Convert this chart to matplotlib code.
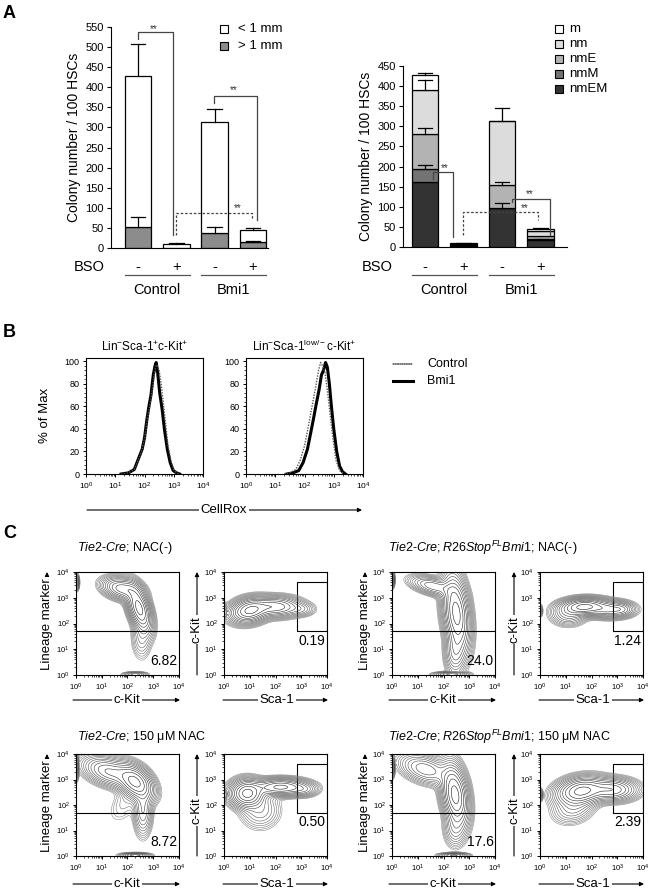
import matplotlib
matplotlib.use('Agg')
import matplotlib.pyplot as plt
import matplotlib.transforms as mtransforms
from matplotlib.patches import FancyArrowPatch, Rectangle
import numpy as np

plt.rcParams['font.family'] = ['Liberation Sans', 'DejaVu Sans']
plt.rcParams['mathtext.fontset'] = 'custom'
plt.rcParams['mathtext.rm'] = 'Liberation Sans'
plt.rcParams['mathtext.it'] = 'Liberation Sans:italic'
plt.rcParams['mathtext.bf'] = 'Liberation Sans:bold'
plt.rcParams['axes.linewidth'] = 0.8

# ---------------- data ----------------
groups = ['Control', 'Bmi1']
bso = ['-', '+', '-', '+']

# A left: colony size
small_mm = [375, 9, 275, 30]      # < 1 mm (stacked on top)
large_mm = [52, 1, 38, 15]        # > 1 mm
small_err = [80, 2, 32, 5]
large_err = [24, 0, 14, 2]

# A right: colony type, bottom to top
lineage = ['nmEM', 'nmM', 'nmE', 'nm', 'm']
nmEM = [162, 2, 98, 18]
nmM = [33, 1, 0, 2]
nmE = [85, 2, 55, 8]
nm = [110, 3, 160, 12]
m = [37, 1, 0, 4]
err_nmEM = [0, 0, 12, 3]
err_nmM = [8, 0, 0, 0]
err_nmE = [16, 0, 9, 0]
err_nm = [25, 0, 32, 0]
err_m = [5, 1, 0, 3]
lineage_colors = ['#333333', '#737373', '#b3b3b3', '#dcdcdc', '#ffffff']

# B: CellRox histograms (log10 intensity, % of max)
lsk_ctrl_x = [1.2, 1.45, 1.65, 1.8, 1.92, 2.02, 2.1, 2.18, 2.25, 2.32, 2.38, 2.43, 2.5, 2.57, 2.65, 2.72, 2.8, 2.9, 3.0, 3.1, 3.2]
lsk_ctrl_y = [0, 1, 4, 13, 22, 34, 50, 60, 72, 86, 95, 97, 92, 80, 62, 45, 26, 12, 4, 1, 0]
lsk_bmi_x = [1.2, 1.45, 1.65, 1.8, 1.92, 2.0, 2.08, 2.15, 2.22, 2.3, 2.36, 2.4, 2.45, 2.52, 2.6, 2.68, 2.78, 2.88, 2.98, 3.1, 3.2]
lsk_bmi_y = [0, 1, 4, 14, 22, 32, 48, 60, 70, 88, 96, 99, 90, 72, 58, 40, 22, 10, 3, 1, 0]
low_ctrl_x = [1.3, 1.5, 1.7, 1.85, 2.0, 2.1, 2.2, 2.3, 2.4, 2.48, 2.55, 2.62, 2.7, 2.78, 2.88, 2.98, 3.08, 3.2, 3.35]
low_ctrl_y = [0, 1, 4, 12, 25, 38, 52, 66, 80, 92, 99, 96, 90, 75, 52, 30, 12, 3, 0]
low_bmi_x = [1.4, 1.6, 1.8, 1.95, 2.1, 2.2, 2.3, 2.4, 2.5, 2.58, 2.65, 2.72, 2.78, 2.85, 2.92, 3.0, 3.1, 3.2, 3.3, 3.4]
low_bmi_y = [0, 1, 3, 10, 22, 35, 48, 62, 75, 88, 92, 99, 95, 80, 60, 40, 20, 7, 2, 0]

# C: contour populations (log10 x, log10 y, sd x, sd y, rho, weight)
tie2_nac0_lin = [(2.45, 2.6, 0.24, 0.45, -0.5, 1.0), (1.8, 3.35, 0.38, 0.22, -0.3, 0.55),
                 (2.55, 1.5, 0.2, 0.45, 0.0, 0.1), (0.03, 3.6, 0.05, 0.15, 0.0, 0.3),
                 (2.3, 0.03, 0.25, 0.05, 0.0, 0.15)]
tie2_nac0_sca = [(1.0, 2.5, 0.38, 0.24, 0.2, 1.0), (2.0, 2.65, 0.5, 0.2, 0.0, 0.6),
                 (3.0, 2.55, 0.28, 0.14, 0.0, 0.1), (0.03, 2.45, 0.05, 0.15, 0.0, 0.2)]
bmi1_nac0_lin = [(2.5, 2.4, 0.26, 0.75, -0.3, 1.0), (1.6, 3.45, 0.45, 0.2, -0.5, 0.3),
                 (2.45, 0.9, 0.2, 0.45, 0.0, 0.25), (0.03, 3.7, 0.04, 0.15, 0.0, 0.3),
                 (2.3, 0.03, 0.35, 0.05, 0.0, 0.25)]
bmi1_nac0_sca = [(1.7, 2.65, 0.45, 0.17, 0.1, 1.0), (2.7, 2.55, 0.45, 0.17, 0.0, 0.5),
                 (3.2, 2.55, 0.22, 0.13, 0.0, 0.15), (1.1, 2.35, 0.35, 0.22, 0.0, 0.2),
                 (0.03, 2.5, 0.04, 0.12, 0.0, 0.1)]
tie2_nac_lin = [(2.3, 2.9, 0.35, 0.35, -0.4, 1.0), (1.3, 3.3, 0.5, 0.3, -0.4, 0.5),
                (2.6, 1.8, 0.18, 0.5, 0.0, 0.25), (1.9, 2.1, 0.35, 0.45, 0.5, 0.04),
                (0.03, 3.5, 0.04, 0.25, 0.0, 0.3), (2.3, 0.03, 0.3, 0.05, 0.0, 0.3)]
tie2_nac_sca = [(0.9, 2.45, 0.33, 0.27, 0.0, 1.0), (2.2, 2.7, 0.55, 0.17, 0.0, 0.7),
                (1.4, 1.8, 0.4, 0.38, 0.0, 0.12), (3.1, 2.6, 0.28, 0.14, 0.0, 0.15),
                (0.03, 2.4, 0.05, 0.15, 0.0, 0.2)]
bmi1_nac_lin = [(2.45, 2.4, 0.26, 0.6, -0.3, 1.0), (1.3, 3.4, 0.5, 0.3, -0.4, 0.3),
                (2.45, 1.1, 0.22, 0.38, 0.0, 0.15), (0.03, 3.5, 0.04, 0.2, 0.0, 0.3),
                (2.4, 0.03, 0.3, 0.05, 0.0, 0.25)]
bmi1_nac_sca = [(1.6, 2.55, 0.48, 0.27, 0.2, 1.0), (2.8, 2.6, 0.48, 0.22, 0.0, 0.6),
                (1.3, 1.9, 0.42, 0.32, 0.2, 0.15), (0.03, 2.4, 0.04, 0.12, 0.0, 0.15)]
lin_pct = ['6.82', '24.0', '8.72', '17.6']
lsk_pct = ['0.19', '1.24', '0.50', '2.39']
lin_gate = 1.7
sca_gate = (2.85, 1.7, 3.6)     # x start, y bottom, y top

W, H = 652, 893
fig = plt.figure(figsize=(W / 100, H / 100), dpi=100)


def box(l, t, r, b):
    return [l / W, 1 - b / H, (r - l) / W, (b - t) / H]


def ftext(x, y, s, **kw):
    fig.text(x / W, 1 - y / H, s, **kw)


def fline(x0, y0, x1, y1, arrow=False, **kw):
    style = '-|>' if arrow else '-'
    fig.add_artist(FancyArrowPatch((x0 / W, 1 - y0 / H), (x1 / W, 1 - y1 / H),
                                   transform=fig.transFigure, arrowstyle=style,
                                   mutation_scale=6, shrinkA=0, shrinkB=0,
                                   lw=0.8, color='black', **kw))


def arrow_label(x0, y0, x1, y1, s, cx, cy, rot=0, size=9.5):
    fline(x0, y0, x1, y1, arrow=True)
    ftext(cx, cy, s, rotation=rot, ha='center', va='center', fontsize=size,
          bbox=dict(fc='white', ec='none', pad=1.0))


def bar_axes(ax, ymax, step):
    ax.set_ylim(0, ymax)
    ax.set_yticks(np.arange(0, ymax + 1, step))
    ax.tick_params(axis='y', labelsize=8, length=3, width=0.8, pad=2)
    ax.set_xticks([])
    for s in ('top', 'right'):
        ax.spines[s].set_visible(False)
    ax.set_ylabel('Colony number / 100 HSCs', fontsize=10, labelpad=3)


def err(ax, x, top, e, w):
    if e <= 0:
        return
    ax.plot([x, x], [top, top + e], color='black', lw=0.9, zorder=3)
    ax.plot([x - w / 2, x + w / 2], [top + e, top + e], color='black', lw=0.9, zorder=3)


def bso_rows(ax, xs, y_sign, y_line, y_grp, x_bso, width):
    tr = mtransforms.blended_transform_factory(ax.transData, fig.transFigure)
    for x, s in zip(xs, bso):
        ax.text(x, 1 - y_sign / H, s, transform=tr, ha='center', va='center', fontsize=10.5)
    for k, g in enumerate(groups):
        a, b = xs[2 * k] - width / 2, xs[2 * k + 1] + width / 2
        ax.plot([a, b], [1 - y_line / H] * 2, transform=tr, color='#555555', lw=0.9,
                clip_on=False)
        ax.text((a + b) / 2, 1 - y_grp / H, g, transform=tr, ha='center', va='center',
                fontsize=10.5)
    ftext(x_bso, y_sign, 'BSO', ha='center', va='center', fontsize=10.5)


def bracket(ax, x0, y0, x1, y1, ytop, dashed=False):
    ls = (0, (2, 1.5)) if dashed else '-'
    ax.plot([x0, x0, x1, x1], [y0, ytop, ytop, y1], color='#444444', lw=0.9, ls=ls,
            zorder=4, clip_on=False)


def stars(ax, x, y):
    ax.text(x, y, '**', ha='center', va='center', fontsize=7, color='#333333')


xs = np.arange(4)

# ---------------- A left ----------------
ax = fig.add_axes(box(111, 27, 268, 248))
bw = 0.7
ax.bar(xs, large_mm, bw, color='#8c8c8c', edgecolor='black', lw=0.9, zorder=2)
ax.bar(xs, small_mm, bw, bottom=large_mm, color='white', edgecolor='black', lw=0.9, zorder=2)
for i in xs:
    err(ax, i, large_mm[i], large_err[i], bw * 0.55)
    err(ax, i, large_mm[i] + small_mm[i], small_err[i], bw * 0.55)
ax.set_xlim(-0.705, 3.39)
bar_axes(ax, 550, 50)
bracket(ax, 0, 520, 0.9, 33, 537)
stars(ax, 0.4, 545)
bracket(ax, 1.97, 360, 3.1, 70, 378)
stars(ax, 2.5, 392)
bracket(ax, 0.99, 33, 2.97, 70, 88, dashed=True)
stars(ax, 2.6, 100)
bso_rows(ax, xs, 267, 275, 290, 89, bw)
for k, (lab, col) in enumerate(zip(['< 1 mm', '> 1 mm'], ['white', '#8c8c8c'])):
    fig.add_artist(Rectangle((220 / W, 1 - (33 + 17 * k) / H), 8 / W, 8 / H,
                             transform=fig.transFigure, fc=col, ec='black', lw=0.8))
    ftext(238, 29 + 17 * k, lab, ha='left', va='center', fontsize=9.5)

# ---------------- A right ----------------
ax = fig.add_axes(box(403, 66, 567, 247))
bw = 0.68
segs = [nmEM, nmM, nmE, nm, m]
errs = [err_nmEM, err_nmM, err_nmE, err_nm, err_m]
bottom = np.zeros(4)
for vals, col in zip(segs, lineage_colors):
    ax.bar(xs, vals, bw, bottom=bottom, color=col, edgecolor='black', lw=0.9, zorder=2)
    bottom = bottom + np.array(vals)
bottom = np.zeros(4)
for vals, e in zip(segs, errs):
    bottom = bottom + np.array(vals)
    for i in xs:
        err(ax, i, bottom[i], e[i], bw * 0.55)
ax.set_xlim(-0.57, 3.69)
bar_axes(ax, 450, 50)
bracket(ax, 0.21, 170, 0.73, 25, 186)
stars(ax, 0.52, 196)
bracket(ax, 2.25, 112, 3.25, 29, 120)
stars(ax, 2.73, 132)
bracket(ax, 0.99, 29, 2.94, 66, 87, dashed=True)
stars(ax, 2.6, 97)
bso_rows(ax, xs, 267, 275, 290, 377, bw)
for k, (lab, col) in enumerate(zip(lineage[::-1], lineage_colors[::-1])):
    fig.add_artist(Rectangle((555 / W, 1 - (33 + 15 * k) / H), 8 / W, 8 / H,
                             transform=fig.transFigure, fc=col, ec='black', lw=0.8))
    ftext(569, 29 + 15 * k, lab, ha='left', va='center', fontsize=9.5)


# ---------------- B ----------------
def log_ticks(ax, axis='x', size=6):
    ticks = [0, 1, 2, 3, 4]
    minor = [k + np.log10(v) for k in range(4) for v in range(2, 10)]
    labels = [r'$10^{%d}$' % t for t in ticks]
    if axis == 'x':
        ax.set_xticks(ticks)
        ax.set_xticklabels(labels)
        ax.set_xticks(minor, minor=True)
        ax.set_xlim(0, 4)
    else:
        ax.set_yticks(ticks)
        ax.set_yticklabels(labels)
        ax.set_yticks(minor, minor=True)
        ax.set_ylim(0, 4)
    ax.tick_params(axis=axis, which='major', labelsize=size, length=2.5, width=0.7, pad=2)
    ax.tick_params(axis=axis, which='minor', length=1.3, width=0.5)


b_titles = [r'Lin$^{-}$Sca-1$^{+}$c-Kit$^{+}$', r'Lin$^{-}$Sca-1$^{\mathrm{low/-}}$c-Kit$^{+}$']
b_data = [(lsk_ctrl_x, lsk_ctrl_y, lsk_bmi_x, lsk_bmi_y),
          (low_ctrl_x, low_ctrl_y, low_bmi_x, low_bmi_y)]
for k, (left, title, (cx, cy, bx, by)) in enumerate(zip([86, 246], b_titles, b_data)):
    ax = fig.add_axes(box(left, 358, left + 117, 474))
    ax.plot(bx, by, color='black', lw=2.2, solid_joinstyle='round')
    ax.plot(cx, cy, color='#555555', lw=1.0, ls=(0, (1, 1)))
    log_ticks(ax, 'x', 6)
    ax.set_ylim(0, 103)
    ax.set_yticks(np.arange(0, 101, 20))
    ax.set_yticks(np.arange(0, 101, 4), minor=True)
    ax.tick_params(axis='y', which='major', labelsize=6.5, length=2.5, width=0.7, pad=2)
    ax.tick_params(axis='y', which='minor', length=1.2, width=0.5)
    ax.set_title(title, fontsize=8.5, pad=5)
ftext(45, 415, '% of Max', rotation=90, ha='center', va='center', fontsize=9.5)
arrow_label(87, 510, 362, 510, 'CellRox', 224, 510)
fline(393, 364, 413, 364, linestyle=(0, (1, 1)))
ftext(427, 364, 'Control', ha='left', va='center', fontsize=9)
fig.add_artist(plt.Line2D([393 / W, 413 / W], [1 - 381 / H] * 2, transform=fig.transFigure,
                          color='black', lw=2.2))
ftext(427, 381, 'Bmi1', ha='left', va='center', fontsize=9)

# ---------------- C ----------------
grid = np.linspace(0, 4, 240)
GX, GY = np.meshgrid(grid, grid)


def density(blobs):
    z = np.zeros_like(GX)
    for cx, cy, sx, sy, rho, w in blobs:
        dx = (GX - cx) / sx
        dy = (GY - cy) / sy
        q = (dx ** 2 - 2 * rho * dx * dy + dy ** 2) / (1 - rho ** 2)
        z += w * np.exp(-0.5 * q)
    return z


def contour_panel(ax, blobs):
    z = density(blobs)
    levels = z.max() * np.geomspace(0.012, 0.85, 14)
    cols = [str(v) for v in np.linspace(0.55, 0.1, len(levels))]
    ax.contour(GX, GY, z, levels=levels, colors=cols, linewidths=0.4)
    log_ticks(ax, 'x', 5.5)
    log_ticks(ax, 'y', 5.5)


c_titles = [r'$\mathit{Tie2}$-$\mathit{Cre}$; NAC(-)',
            r'$\mathit{Tie2}$-$\mathit{Cre{;}R26Stop}^{\mathit{FL}}\mathit{Bmi1}$; NAC(-)',
            r'$\mathit{Tie2}$-$\mathit{Cre}$; 150 μM NAC',
            r'$\mathit{Tie2}$-$\mathit{Cre{;}R26Stop}^{\mathit{FL}}\mathit{Bmi1}$; 150 μM NAC']
c_blobs = [(tie2_nac0_lin, tie2_nac0_sca), (bmi1_nac0_lin, bmi1_nac0_sca),
           (tie2_nac_lin, tie2_nac_sca), (bmi1_nac_lin, bmi1_nac_sca)]
row_top = [572, 754]
row_bot = [675, 856]
title_y = [548, 737]
xlab_y = [700, 884]
col_x = [(76, 224, 77, 47, 197), (392, 540, 388, 365, 514)]
for idx, (title, (lin_b, sca_b)) in enumerate(zip(c_titles, c_blobs)):
    r, c = divmod(idx, 2)
    x1, x2, tx, ylx1, ylx2 = col_x[c]
    t, b = row_top[r], row_bot[r]
    ftext(tx, title_y[r], title, ha='left', va='center', fontsize=9)
    # lineage vs c-Kit
    ax = fig.add_axes(box(x1, t, x1 + 103, b))
    contour_panel(ax, lin_b)
    ax.axhline(lin_gate, color='black', lw=0.8)
    ax.text(3.42, 0.55, lin_pct[idx], ha='center', va='center', fontsize=10)
    # c-Kit vs Sca-1
    ax = fig.add_axes(box(x2, t, x2 + 103, b))
    contour_panel(ax, sca_b)
    gx, gb, gt = sca_gate
    ax.add_patch(Rectangle((gx, gb), 4 - gx, gt - gb, fill=False, ec='black', lw=0.8))
    ax.text(3.4, 1.32, lsk_pct[idx], ha='center', va='center', fontsize=10)
    # axis labels with arrows
    arrow_label(x1 - 3, xlab_y[r], x1 + 104, xlab_y[r], 'c-Kit', x1 + 51, xlab_y[r])
    arrow_label(x2 - 1, xlab_y[r], x2 + 104, xlab_y[r], 'Sca-1', x2 + 53, xlab_y[r])
    arrow_label(ylx1, b - 8, ylx1, t, 'Lineage marker', ylx1, (t + b) / 2 + 1, rot=90)
    arrow_label(ylx2, b, ylx2, t, 'c-Kit', ylx2, (t + b) / 2 + 6, rot=90)

# panel letters
ftext(3, 14, 'A', fontsize=13, fontweight='bold', va='center')
ftext(3, 332, 'B', fontsize=13, fontweight='bold', va='center')
ftext(3, 533, 'C', fontsize=13, fontweight='bold', va='center')

fig.savefig('out.png', dpi=100)
